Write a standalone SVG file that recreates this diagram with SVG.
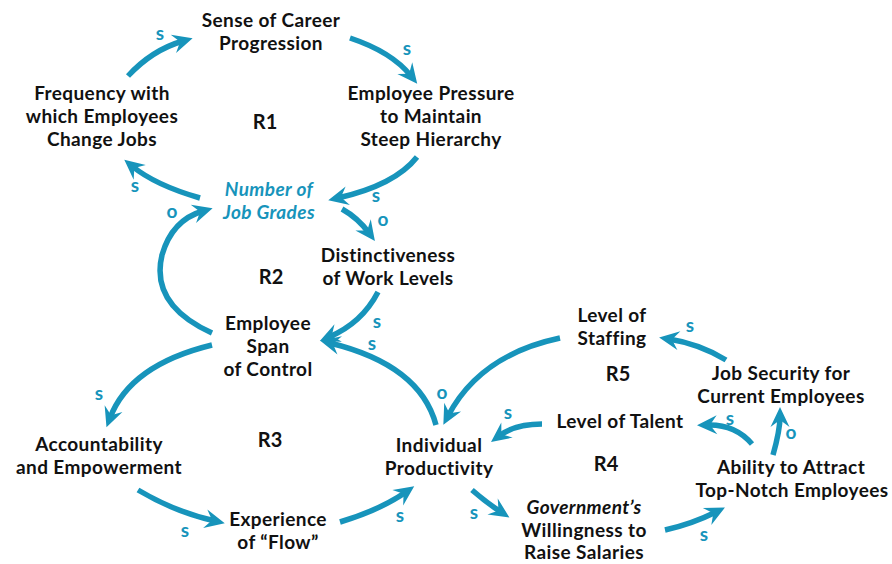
<svg xmlns="http://www.w3.org/2000/svg" width="892" height="564" viewBox="0 0 892 564">
<defs>
<style>
.lbl{font-family:Lato,"Open Sans","Liberation Sans",sans-serif;font-weight:700;font-size:19px;letter-spacing:0.4px;fill:#111;text-anchor:middle}
.blue{fill:#1794bb;font-style:italic}
.it{font-style:italic}
.loop{font-family:Lato,"Open Sans","Liberation Sans",sans-serif;font-weight:700;font-size:20px;fill:#111;text-anchor:middle}
.pol{font-family:Lato,"Open Sans","Liberation Sans",sans-serif;font-weight:700;font-size:19px;fill:#1794bb;text-anchor:middle}
.arc{fill:none;stroke:#1794bb;stroke-width:5.5;marker-end:url(#head)}
</style>
<marker id="head" viewBox="-22 -11 24 22" refX="-10" refY="0" markerWidth="24" markerHeight="22" markerUnits="userSpaceOnUse" orient="auto">
<path d="M0,0 L-20,-9.5 L-13,0 L-20,9.5 Z" fill="#1794bb"/>
</marker>
</defs>
<rect width="892" height="564" fill="#fff"/>

<g id="connectors">
<path class="arc" d="M128,76 Q152,50 183,41"/>
<path class="arc" d="M350,38 Q392,52 411,76"/>
<path class="arc" d="M417,157 Q395,185 338,198"/>
<path class="arc" d="M200,198 Q155,185 132,166"/>
<path class="arc" d="M212,333 Q150,305 162,255 Q172,220 203,211"/>
<path class="arc" d="M342,209 Q358,218 369,233"/>
<path class="arc" d="M378,292 Q362,323 329,337"/>
<path class="arc" d="M436,425 Q420,365 330,343"/>
<path class="arc" d="M212,345 Q130,365 110,418"/>
<path class="arc" d="M138,490 Q175,512 215,521"/>
<path class="arc" d="M340,522 Q380,510 406,492"/>
<path class="arc" d="M560,338 Q480,355 448,416"/>
<path class="arc" d="M542,424 Q515,424 499,436"/>
<path class="arc" d="M472,490 Q487,503 501,512"/>
<path class="arc" d="M665,530 Q692,524 716,512"/>
<path class="arc" d="M752,444 Q735,424 707,425"/>
<path class="arc" d="M773,455 Q780,430 780,417"/>
<path class="arc" d="M726,360 Q700,344 669,339"/>
</g>

<g id="polarities">
<text class="pol" x="160" y="40">s</text>
<text class="pol" x="407" y="55">s</text>
<text class="pol" x="376" y="202">s</text>
<text class="pol" x="135" y="192">s</text>
<text class="pol" x="172" y="218">o</text>
<text class="pol" x="383" y="226">o</text>
<text class="pol" x="377" y="328">s</text>
<text class="pol" x="372" y="350">s</text>
<text class="pol" x="99" y="400">s</text>
<text class="pol" x="185" y="537">s</text>
<text class="pol" x="400" y="522">s</text>
<text class="pol" x="442" y="399">o</text>
<text class="pol" x="508" y="419">s</text>
<text class="pol" x="474" y="519">s</text>
<text class="pol" x="704" y="541">s</text>
<text class="pol" x="730" y="425">s</text>
<text class="pol" x="791" y="439">o</text>
<text class="pol" x="690" y="332">s</text>
</g>

<g id="loops">
<text class="loop" x="265" y="129">R1</text>
<text class="loop" x="271" y="284">R2</text>
<text class="loop" x="270" y="447">R3</text>
<text class="loop" x="606" y="471">R4</text>
<text class="loop" x="618" y="381">R5</text>
</g>

<g id="sense-of-career-progression"><text class="lbl" x="271" y="27">Sense of Career</text><text class="lbl" x="271" y="50">Progression</text></g>
<g id="frequency-change-jobs"><text class="lbl" x="102" y="100">Frequency with</text><text class="lbl" x="102" y="123">which Employees</text><text class="lbl" x="102" y="146">Change Jobs</text></g>
<g id="pressure-steep-hierarchy"><text class="lbl" x="431" y="100">Employee Pressure</text><text class="lbl" x="431" y="123">to Maintain</text><text class="lbl" x="431" y="146">Steep Hierarchy</text></g>
<g id="number-of-job-grades"><text class="lbl blue" x="269" y="196">Number of</text><text class="lbl blue" x="269" y="219">Job Grades</text></g>
<g id="distinctiveness"><text class="lbl" x="388" y="262">Distinctiveness</text><text class="lbl" x="388" y="285">of Work Levels</text></g>
<g id="span-of-control"><text class="lbl" x="268" y="330">Employee</text><text class="lbl" x="268" y="353">Span</text><text class="lbl" x="268" y="376">of Control</text></g>
<g id="accountability"><text class="lbl" x="99" y="451">Accountability</text><text class="lbl" x="99" y="474">and Empowerment</text></g>
<g id="experience-of-flow"><text class="lbl" x="278" y="526">Experience</text><text class="lbl" x="278" y="549">of “Flow”</text></g>
<g id="individual-productivity"><text class="lbl" x="439" y="452">Individual</text><text class="lbl" x="439" y="475">Productivity</text></g>
<g id="level-of-staffing"><text class="lbl" x="612" y="322">Level of</text><text class="lbl" x="612" y="345">Staffing</text></g>
<g id="job-security"><text class="lbl" x="781" y="380">Job Security for</text><text class="lbl" x="781" y="403">Current Employees</text></g>
<g id="level-of-talent"><text class="lbl" x="620" y="428">Level of Talent</text></g>
<g id="ability-to-attract"><text class="lbl" x="791" y="474">Ability to Attract</text><text class="lbl" x="792" y="497">Top-Notch Employees</text></g>
<g id="government-willingness"><text class="lbl it" x="584" y="514">Government’s</text><text class="lbl" x="584" y="537">Willingness to</text><text class="lbl" x="584" y="559">Raise Salaries</text></g>
</svg>
